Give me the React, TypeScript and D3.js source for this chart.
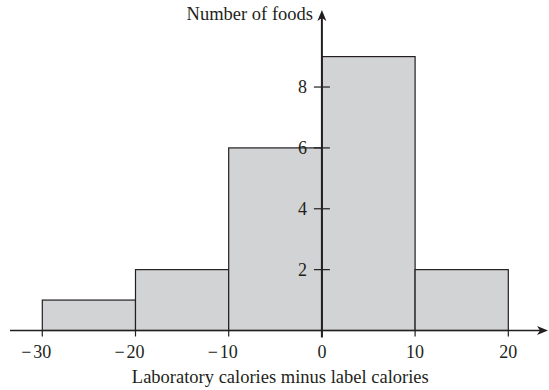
import React from "react";
import * as d3 from "d3";

const binStarts = [-30, -20, -10, 0, 10];
const binWidth = 10;
const counts = [1, 2, 6, 9, 2];
const xTicks = [-30, -20, -10, 0, 10, 20];
const yTicks = [2, 4, 6, 8];
const xTitle = "Laboratory calories minus label calories";
const yTitle = "Number of foods";

const W = 549;
const H = 390;
const ink = "#231f20";
const fill = "#d1d3d4";
const font = "'Liberation Serif', 'Times New Roman', serif";
const tickFont = 18;

export default function App() {
  const x = d3.scaleLinear().domain([-30, 20]).range([42.3, 508.3]);
  const y = d3.scaleLinear().domain([0, 9]).range([330.5, 56.6]);
  const x0 = x(0);
  const y0 = y(0);

  const arrowRight = (tx: number, ty: number) =>
    `M${tx},${ty} L${tx - 11},${ty - 4.5} L${tx - 8},${ty} L${tx - 11},${ty + 4.5} Z`;
  const arrowUp = (tx: number, ty: number) =>
    `M${tx},${ty} L${tx - 4.5},${ty + 11} L${tx},${ty + 8} L${tx + 4.5},${ty + 11} Z`;

  return (
    <svg
      width={W}
      height={H}
      style={{ position: "absolute", left: 0, top: 0, background: "#fff" }}
      fontFamily={font}
    >
      {counts.map((c, i) => (
        <rect
          key={i}
          x={x(binStarts[i])}
          y={y(c)}
          width={x(binStarts[i] + binWidth) - x(binStarts[i])}
          height={y0 - y(c)}
          fill={fill}
          stroke={ink}
          strokeWidth={1.2}
        />
      ))}
      {/* x axis */}
      <line x1={10} x2={544} y1={y0} y2={y0} stroke={ink} strokeWidth={1.6} />
      <path d={arrowRight(548, y0)} fill={ink} />
      {xTicks.map((t) => {
        const digits = String(Math.abs(t));
        const half = (digits.length * tickFont * 0.5) / 2;
        return (
          <g key={t}>
            <line x1={x(t)} x2={x(t)} y1={y0} y2={y0 + 6} stroke={ink} strokeWidth={1.2} />
            <text x={x(t)} y={358} textAnchor="middle" fontSize={tickFont} fill={ink}>
              {digits}
            </text>
            {t < 0 && (
              <text x={x(t) - half - 1.8} y={358} textAnchor="end" fontSize={tickFont} fill={ink}>
                {"\u2212"}
              </text>
            )}
          </g>
        );
      })}
      <text x={(x(-30) + x(20)) / 2 + 5} y={382.5} textAnchor="middle" fontSize={18.5} fill={ink}>
        {xTitle}
      </text>
      {/* y axis */}
      <line x1={x0} x2={x0} y1={y0 + 7} y2={16} stroke={ink} strokeWidth={2} />
      <path d={arrowUp(x0, 10)} fill={ink} />
      {yTicks.map((t) => (
        <g key={t}>
          <line x1={x0 - 8} x2={x0 + 8} y1={y(t)} y2={y(t)} stroke={ink} strokeWidth={1.2} />
          <text
            x={x0 - 15}
            y={y(t)}
            dy="0.34em"
            textAnchor="end"
            fontSize={tickFont}
            fill={ink}
          >
            {t}
          </text>
        </g>
      ))}
      <text x={313} y={20} textAnchor="end" fontSize={18.5} fill={ink}>
        {yTitle}
      </text>
    </svg>
  );
}
